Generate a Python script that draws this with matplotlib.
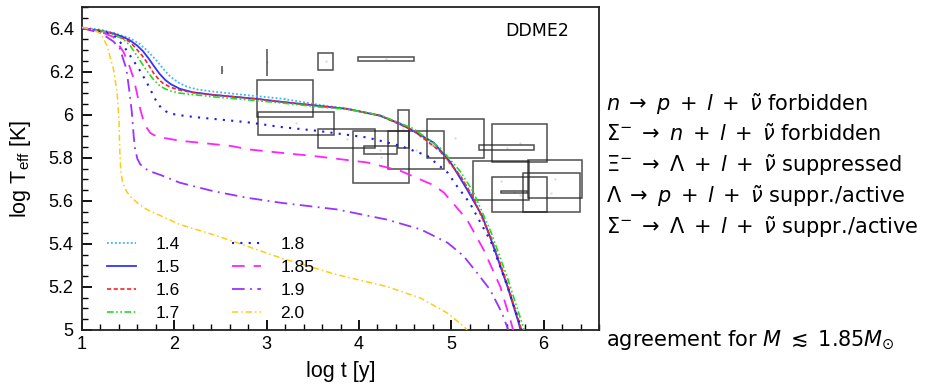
import matplotlib
matplotlib.use("Agg")
import matplotlib.pyplot as plt
from matplotlib.patches import Rectangle
from matplotlib.ticker import MultipleLocator, FormatStrFormatter
import numpy as np

plt.rcParams['font.family'] = ['Liberation Sans', 'DejaVu Sans']
plt.rcParams['mathtext.fontset'] = 'custom'
plt.rcParams['mathtext.rm'] = 'Liberation Sans'
plt.rcParams['mathtext.it'] = 'Liberation Sans:italic'

# cooling curves, log t [y] vs log Teff [K], one per star mass
masses = ['1.4', '1.5', '1.6', '1.7', '1.8', '1.85', '1.9', '2.0']

t_14 = [1.0, 1.2, 1.34, 1.52, 1.62, 1.70, 1.80, 1.88, 1.96, 2.06, 2.15, 2.25, 2.42, 2.8, 3.15, 3.58,
        3.87, 4.23, 4.59, 4.88, 5.10, 5.24, 5.43, 5.61, 5.74, 5.76]
T_14 = [6.405, 6.395, 6.38, 6.355, 6.33, 6.30, 6.255, 6.213, 6.175, 6.145, 6.128, 6.117, 6.107, 6.09, 6.075, 6.045,
        6.028, 5.996, 5.926, 5.83, 5.715, 5.612, 5.425, 5.205, 5.03, 5.0]

t_15 = [1.0, 1.2, 1.34, 1.45, 1.52, 1.6, 1.66, 1.72, 1.78, 1.84, 1.90, 1.96, 2.06, 2.2, 2.42, 2.9, 3.15, 3.58,
        3.87, 4.23, 4.45, 4.59, 4.81, 4.99, 5.17, 5.335, 5.43, 5.61, 5.73, 5.75]
T_15 = [6.402, 6.39, 6.377, 6.36, 6.345, 6.32, 6.295, 6.262, 6.225, 6.19, 6.162, 6.142, 6.12, 6.104, 6.092, 6.073, 6.06, 6.04,
        6.027, 5.995, 5.957, 5.924, 5.87, 5.78, 5.653, 5.529, 5.42, 5.20, 5.033, 5.0]

t_16 = [1.0, 1.2, 1.34, 1.52, 1.6, 1.65, 1.70, 1.78, 1.84, 1.88, 1.96, 2.06, 2.2, 2.42, 2.9, 3.15, 3.58,
        3.87, 4.23, 4.59, 4.88, 5.10, 5.24, 5.43, 5.61, 5.74, 5.76]
T_16 = [6.402, 6.39, 6.375, 6.338, 6.30, 6.275, 6.245, 6.19, 6.16, 6.145, 6.127, 6.114, 6.103, 6.092, 6.073, 6.06, 6.04,
        6.027, 5.996, 5.926, 5.83, 5.715, 5.612, 5.43, 5.21, 5.03, 5.0]

t_17 = [1.0, 1.2, 1.34, 1.45, 1.52, 1.6, 1.70, 1.78, 1.84, 1.90, 1.96, 2.06, 2.42, 3.15, 3.58, 3.87, 4.23,
        4.59, 4.88, 5.10, 5.24, 5.43, 5.61, 5.76, 5.79]
T_17 = [6.402, 6.39, 6.372, 6.35, 6.322, 6.27, 6.205, 6.16, 6.135, 6.12, 6.11, 6.10, 6.083, 6.055, 6.035, 6.025, 5.998,
        5.935, 5.845, 5.735, 5.64, 5.455, 5.24, 5.04, 5.0]

t_18 = [1.0, 1.2, 1.34, 1.45, 1.52, 1.62, 1.70, 1.76, 1.81, 1.86, 1.91, 1.97, 2.1, 2.24, 2.79, 3.15, 3.55, 4.09,
        4.45, 4.74, 4.96, 5.06, 5.2, 5.43, 5.61, 5.74, 5.76]
T_18 = [6.402, 6.385, 6.369, 6.32, 6.275, 6.21, 6.151, 6.1, 6.058, 6.03, 6.015, 6.004, 5.995, 5.988, 5.965, 5.943, 5.925, 5.894,
        5.855, 5.809, 5.731, 5.669, 5.59, 5.41, 5.2, 5.03, 5.0]

t_185 = [1.0, 1.2, 1.34, 1.45, 1.51, 1.56, 1.60, 1.63, 1.67, 1.70, 1.74, 1.78, 1.85, 2.06, 2.61, 2.82, 3.11, 3.55,
         4.09, 4.45, 4.81, 4.92, 5.17, 5.35, 5.53, 5.64, 5.67]
T_185 = [6.402, 6.385, 6.361, 6.291, 6.23, 6.167, 6.09, 6.027, 5.965, 5.94, 5.915, 5.905, 5.895, 5.879, 5.855, 5.838, 5.825, 5.806,
         5.778, 5.739, 5.672, 5.638, 5.513, 5.373, 5.202, 5.047, 5.0]

t_19 = [1.0, 1.2, 1.34, 1.41, 1.48, 1.51, 1.54, 1.56, 1.575, 1.60, 1.63, 1.68, 1.75, 1.85, 2.06, 2.42, 2.79, 3.15,
        3.76, 4.30, 4.67, 4.96, 5.13, 5.28, 5.42, 5.55, 5.61, 5.615]
T_19 = [6.402, 6.38, 6.34, 6.307, 6.213, 6.12, 6.011, 5.9, 5.84, 5.795, 5.77, 5.75, 5.735, 5.72, 5.684, 5.645, 5.614, 5.591,
        5.56, 5.513, 5.467, 5.405, 5.345, 5.265, 5.187, 5.078, 5.008, 5.0]

t_20 = [1.0, 1.1, 1.2, 1.27, 1.34, 1.38, 1.40, 1.41, 1.42, 1.44, 1.48, 1.52, 1.60, 1.70, 2.06, 2.42, 2.79,
        3.15, 3.76, 4.30, 4.67, 4.96, 5.14, 5.17]
T_20 = [6.405, 6.398, 6.377, 6.322, 6.213, 6.104, 5.98, 5.825, 5.74, 5.685, 5.645, 5.622, 5.59, 5.56, 5.49, 5.443, 5.389,
        5.335, 5.257, 5.202, 5.148, 5.078, 5.015, 5.0]

# observed sources: log t range and log Teff range
obs_tlo = [2.90, 2.91, 3.006, 2.52, 3.56, 3.99, 3.56, 3.93, 4.05, 4.42, 4.31, 4.74, 5.44, 5.30, 5.23, 5.83, 5.44, 5.78, 5.54]
obs_thi = [3.505, 3.73, 3.006, 2.52, 3.72, 4.60, 4.17, 4.54, 4.41, 4.54, 4.92, 5.35, 6.04, 5.90, 5.84, 6.42, 6.04, 6.39, 5.82]
obs_Tlo = [5.989, 5.905, 6.181, 6.19, 6.209, 6.25, 5.845, 5.681, 5.817, 5.845, 5.747, 5.80, 5.779, 5.835, 5.602, 5.611, 5.546, 5.546, 5.636]
obs_Thi = [6.162, 6.013, 6.307, 6.227, 6.288, 6.27, 5.933, 5.924, 5.854, 6.022, 5.924, 5.98, 5.957, 5.859, 5.784, 5.789, 5.709, 5.728, 5.644]

curves = [(t_14, T_14), (t_15, T_15), (t_16, T_16), (t_17, T_17),
          (t_18, T_18), (t_185, T_185), (t_19, T_19), (t_20, T_20)]
colors = ['#33bbff', '#3333ff', '#ff2222', '#22dd22', '#1a1aee', '#ff22ff', '#9933ff', '#ffcc11']
styles = [(0, (1, 1.2)), '-', (0, (2.5, 1.5)), (0, (4, 1.5, 1, 1.5, 1, 1.5)),
          (0, (1, 3)), (0, (7, 5)), (0, (7, 3, 1, 3)), (0, (4, 2, 1, 2))]
widths = [1.3, 1.3, 1.2, 1.2, 1.5, 1.3, 1.3, 1.1]

fig = plt.figure(figsize=(9.45, 3.85), dpi=100)
ax = fig.add_axes([82 / 945, 55 / 385, 517 / 945, 323 / 385])

for i in range(len(obs_tlo)):
    w = obs_thi[i] - obs_tlo[i]
    h = obs_Thi[i] - obs_Tlo[i]
    ax.add_patch(Rectangle((obs_tlo[i], obs_Tlo[i]), w, h, fill=False,
                           edgecolor='#222222', lw=1.1, alpha=0.8, zorder=3))
    ax.plot((obs_tlo[i] + obs_thi[i]) / 2, (obs_Tlo[i] + obs_Thi[i]) / 2, '.',
            ms=1, color='#d0d0d0', zorder=2)

for (t, T), c, ls, lw, m in zip(curves, colors, styles, widths, masses):
    ax.plot(t, T, color=c, ls=ls, lw=lw, label=m, zorder=4)

ax.set_xlim(1, 6.6)
ax.set_ylim(5, 6.5)
ax.xaxis.set_major_locator(MultipleLocator(1))
ax.xaxis.set_minor_locator(MultipleLocator(0.2))
ax.yaxis.set_major_locator(MultipleLocator(0.2))
ax.yaxis.set_minor_locator(MultipleLocator(0.05))
ax.xaxis.set_major_formatter(FormatStrFormatter('%g'))
ax.yaxis.set_major_formatter(FormatStrFormatter('%g'))
ax.tick_params(which='both', direction='in', top=False, right=False, labelsize=13)
ax.tick_params(which='major', length=7, width=1.3)
ax.tick_params(which='minor', length=4, width=1.0)
ax.tick_params(axis='y', pad=6)
ax.tick_params(axis='x', pad=4)
for s in ax.spines.values():
    s.set_linewidth(1.3)
    s.set_color('#222222')

ax.set_xlabel('log t [y]', fontsize=15.5)
ax.set_ylabel(r'log T$_{\rm eff}$ [K]', fontsize=15.5)
ax.xaxis.set_label_coords(0.5, -0.095)
ax.yaxis.set_label_coords(-0.095, 0.5)

ax.text(0.88, 0.925, 'DDME2', transform=ax.transAxes, fontsize=12.5,
        ha='center', va='center', family='DejaVu Sans')

ax.legend(ncol=2, loc='upper left', bbox_to_anchor=(0.048, 0.287), frameon=False,
          fontsize=12.5, handlelength=1.7, handletextpad=1.1, columnspacing=3.0,
          labelspacing=0.45, borderpad=0, borderaxespad=0)

lines = [r'$n \;\rightarrow\; p \;+\; l \;+\; \tilde{\nu}$ forbidden',
         r'$\Sigma^{-} \;\rightarrow\; n \;+\; l \;+\; \tilde{\nu}$ forbidden',
         r'$\Xi^{-} \;\rightarrow\; \Lambda \;+\; l \;+\; \tilde{\nu}$ suppressed',
         r'$\Lambda \;\rightarrow\; p \;+\; l \;+\; \tilde{\nu}$ suppr./active',
         r'$\Sigma^{-} \;\rightarrow\; \Lambda \;+\; l \;+\; \tilde{\nu}$ suppr./active']
ys = [104, 134, 165, 196, 227]
for s, y in zip(lines, ys):
    fig.text(606 / 945, 1 - y / 385, s, fontsize=15, ha='left', va='center',
             family='DejaVu Sans', math_fontfamily='dejavusans')
fig.text(606 / 945, 1 - 340 / 385, r'agreement for $M \;\lesssim\; 1.85 M_{\odot}$', fontsize=15,
         ha='left', va='center', family='DejaVu Sans', math_fontfamily='dejavusans')

fig.savefig('out.png', dpi=100)
